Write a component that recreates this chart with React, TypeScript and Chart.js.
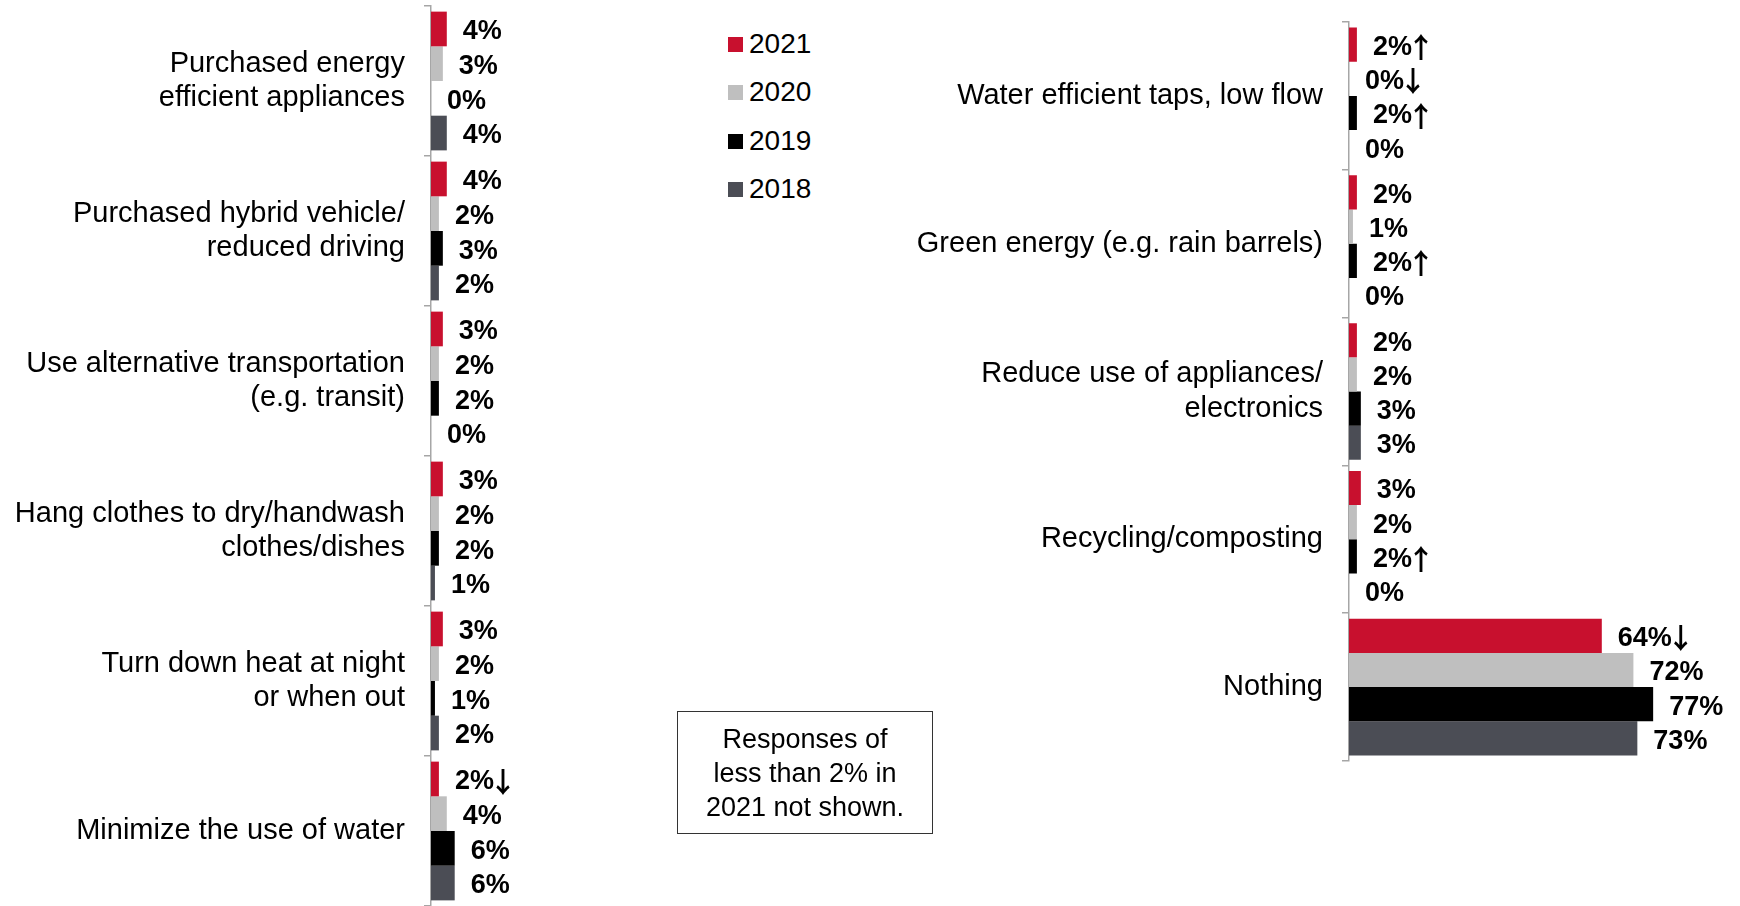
import React, { useEffect, useRef } from "react";
import { Chart, registerables } from "chart.js";

Chart.register(...registerables);

const FONT = "'Liberation Sans', Arial, sans-serif";
const ARROW_FONT = "bold 28px 'Noto Sans CJK JP', 'DejaVu Sans', sans-serif";

const seriesNames = ["2021", "2020", "2019", "2018"];
const seriesColors = ["#C8102E", "#BFBFBF", "#000000", "#4B4D55"];

const leftCategories = [
  ["Purchased energy", "efficient appliances"],
  ["Purchased hybrid vehicle/", "reduced driving"],
  ["Use alternative transportation", "(e.g. transit)"],
  ["Hang clothes to dry/handwash", "clothes/dishes"],
  ["Turn down heat at night", "or when out"],
  ["Minimize the use of water"],
];
const left2021 = [4, 4, 3, 3, 3, 2];
const left2020 = [3, 2, 2, 2, 2, 4];
const left2019 = [0, 3, 2, 2, 1, 6];
const left2018 = [4, 2, 0, 1, 2, 6];
const leftArrows2021 = ["", "", "", "", "", "↓"];
const leftArrows2020 = ["", "", "", "", "", ""];
const leftArrows2019 = ["", "", "", "", "", ""];
const leftArrows2018 = ["", "", "", "", "", ""];

const rightCategories = [
  ["Water efficient taps, low flow"],
  ["Green energy (e.g. rain barrels)"],
  ["Reduce use of appliances/", "electronics"],
  ["Recycling/composting"],
  ["Nothing"],
];
const right2021 = [2, 2, 2, 3, 64];
const right2020 = [0, 1, 2, 2, 72];
const right2019 = [2, 2, 3, 2, 77];
const right2018 = [0, 0, 3, 0, 73];
const rightArrows2021 = ["↑", "", "", "", "↓"];
const rightArrows2020 = ["↓", "", "", "", ""];
const rightArrows2019 = ["↑", "↑", "", "↑", ""];
const rightArrows2018 = ["", "", "", "", ""];

const noteLines = ["Responses of", "less than 2% in", "2021 not shown."];

const valueLabelPlugin = {
  id: "valueLabels",
  afterDatasetsDraw(chart: any) {
    const ctx = chart.ctx;
    ctx.save();
    ctx.fillStyle = "#000";
    ctx.textAlign = "left";
    ctx.textBaseline = "middle";
    chart.data.datasets.forEach((ds: any, i: number) => {
      const meta = chart.getDatasetMeta(i);
      meta.data.forEach((bar: any, j: number) => {
        const v = ds.data[j];
        const arrow = (ds.arrows && ds.arrows[j]) || "";
        const text = `${v}%`;
        ctx.font = `bold 27px ${FONT}`;
        const x = bar.x + 16;
        const y = bar.y + 3;
        ctx.fillText(text, x, y);
        if (arrow) {
          const w = ctx.measureText(text).width;
          ctx.font = ARROW_FONT;
          ctx.fillText(arrow, x + w - 5, y);
        }
      });
    });
    ctx.restore();
  },
};

function buildConfig(
  categories: string[][],
  values: number[][],
  arrows: string[][],
  axisWidth: number,
  xMax: number,
  padding: { top: number; bottom: number; right: number; left: number }
) {
  return {
    type: "bar" as const,
    data: {
      labels: categories,
      datasets: values.map((vals, i) => ({
        label: seriesNames[i],
        data: vals,
        arrows: arrows[i],
        backgroundColor: seriesColors[i],
        borderWidth: 0,
        categoryPercentage: 0.925,
        barPercentage: 1.0,
      })),
    },
    options: {
      indexAxis: "y" as const,
      animation: false as const,
      responsive: false,
      layout: { padding },
      plugins: {
        legend: { display: false },
        tooltip: { enabled: false },
      },
      scales: {
        x: {
          display: false,
          min: 0,
          max: xMax,
        },
        y: {
          position: "left" as const,
          afterFit: (scale: any) => {
            scale.width = axisWidth;
            scale.paddingTop = 0;
            scale.paddingBottom = 0;
          },
          grid: {
            offset: true,
            drawOnChartArea: false,
            drawTicks: true,
            tickLength: 7,
            color: "#A6A6A6",
            lineWidth: 1.5,
          },
          border: { display: true, color: "#A6A6A6", width: 1.5 },
          ticks: {
            padding: 19,
            color: "#000",
            autoSkip: false,
            font: { family: FONT, size: 29, lineHeight: 1.18 },
          },
        },
      },
    },
    plugins: [valueLabelPlugin],
  };
}

function BarCanvas(props: {
  config: any;
  left: number;
  width: number;
  height: number;
}) {
  const ref = useRef<HTMLCanvasElement>(null);
  useEffect(() => {
    if (!ref.current) return;
    const chart = new Chart(ref.current, props.config);
    return () => chart.destroy();
  }, []);
  return (
    <canvas
      ref={ref}
      width={props.width}
      height={props.height}
      style={{
        position: "absolute",
        left: props.left,
        top: 0,
        width: props.width,
        height: props.height,
      }}
    />
  );
}

export default function App() {
  // left: axis at x=431, 3.95 px per percent (40% -> 158px)
  const leftConfig = buildConfig(
    leftCategories,
    [left2021, left2020, left2019, left2018],
    [leftArrows2021, leftArrows2020, leftArrows2019, leftArrows2018],
    431,
    40,
    { top: 6, bottom: 0, right: 11, left: 0 }
  );
  // right: canvas at 880, axis at x=1349, 90% -> 355.5px
  const rightConfig = buildConfig(
    rightCategories,
    [right2021, right2020, right2019, right2018],
    [rightArrows2021, rightArrows2020, rightArrows2019, rightArrows2018],
    469,
    90,
    { top: 22, bottom: 145, right: 35.5, left: 0 }
  );
  const legendTops = [44, 92, 141, 189];
  return (
    <div
      style={{
        position: "absolute",
        left: 0,
        top: 0,
        width: 1740,
        height: 906,
        overflow: "hidden",
        background: "#fff",
        fontFamily: FONT,
      }}
    >
      <BarCanvas config={leftConfig} left={0} width={600} height={906} />
      <BarCanvas config={rightConfig} left={880} width={860} height={906} />
      {seriesNames.map((name, i) => (
        <div
          key={name}
          style={{
            position: "absolute",
            left: 728,
            top: legendTops[i] - 17,
            height: 34,
            display: "flex",
            alignItems: "center",
            fontSize: 28,
            color: "#000",
            whiteSpace: "nowrap",
          }}
        >
          <span
            style={{
              display: "inline-block",
              width: 15,
              height: 15,
              background: seriesColors[i],
              marginRight: 6,
            }}
          />
          <span>{name}</span>
        </div>
      ))}
      <div
        style={{
          position: "absolute",
          left: 677,
          top: 711,
          width: 254,
          height: 121,
          border: "1px solid #333",
          display: "flex",
          flexDirection: "column",
          justifyContent: "center",
          alignItems: "center",
          fontSize: 27,
          lineHeight: "34px",
          color: "#000",
          textAlign: "center",
        }}
      >
        {noteLines.map((l) => (
          <div key={l}>{l}</div>
        ))}
      </div>
    </div>
  );
}
